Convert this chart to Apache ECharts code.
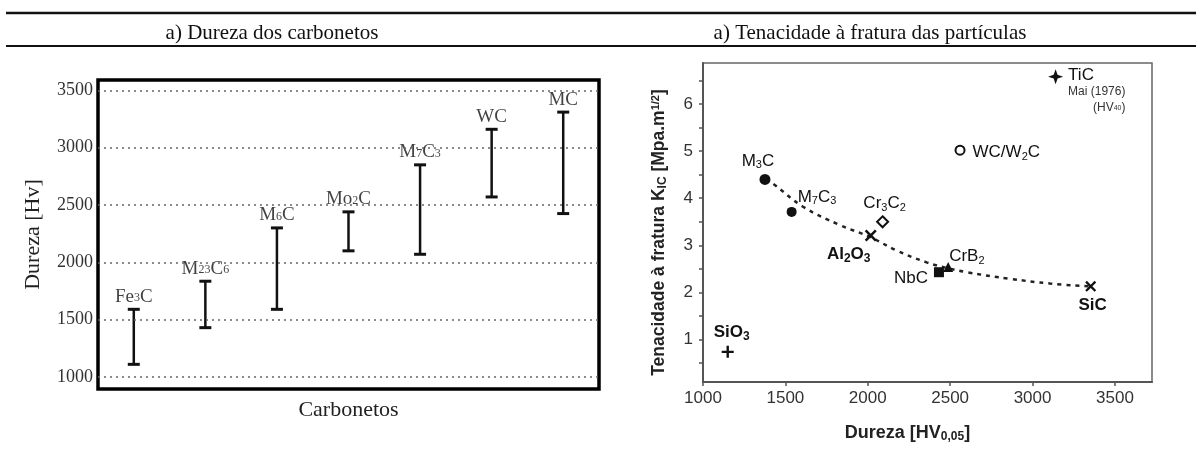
<!DOCTYPE html>
<html><head><meta charset="utf-8">
<script src="https://cdn.jsdelivr.net/npm/echarts@6/dist/echarts.min.js"></script>
<style>html,body{margin:0;padding:0;background:#fff}#c{width:1200px;height:457px}</style>
</head><body><div id="c"></div>
<script>
// ---- Left chart: hardness ranges of carbides ----
const carbides = ['Fe3C','M23C6','M6C','Mo2C','M7C3','WC','MC'];
const hvLow  = [1110, 1430, 1590, 2100, 2070, 2570, 2425];
const hvHigh = [1590, 1835, 2300, 2440, 2850, 3160, 3310];
const leftTicks = [1000, 1500, 2000, 2500, 3000, 3500];

// ---- Right chart: fracture toughness vs hardness ----
const particles = ['TiC','WC/W2C','M3C','M7C3','Cr3C2','Al2O3','NbC','CrB2','SiC','SiO3'];
const partHV  = [3140, 2560, 1376, 1538, 2090, 2018, 2432, 2488, 3353, 1150];
const partKIC = [6.58, 5.02, 4.40, 3.71, 3.50, 3.21, 2.43, 2.54, 2.13, 0.74];
const trendHV  = [1380, 1425, 1607, 1831, 2013, 2175, 2357, 2480, 2600, 2863, 3106, 3340];
const trendKIC = [4.40, 4.31, 3.82, 3.43, 3.18, 2.89, 2.64, 2.52, 2.43, 2.29, 2.19, 2.13];
const rightXTicks = [1000, 1500, 2000, 2500, 3000, 3500];
const rightYTicks = [1, 2, 3, 4, 5, 6];
const rightYMinor = [0.5, 1, 1.5, 2, 2.5, 3, 3.5, 4, 4.5, 5, 5.5, 6, 6.5];

const SERIF = '"Liberation Serif","DejaVu Serif",serif';
const SANS = '"Liberation Sans",Arial,sans-serif';
const plain = v => String(v);

function richSub(name, n, s) {
  const parts = name.match(/\d+|\D+/g);
  return parts.map(p => /^\d+$/.test(p) ? '{' + s + '|' + p + '}' : '{' + n + '|' + p + '}').join('');
}

const PLUS = 'path://M4,0H6V4H10V6H6V10H4V6H0V4H4Z';
const XB = 'path://M1.5,0L5,3.5L8.5,0L10,1.5L6.5,5L10,8.5L8.5,10L5,6.5L1.5,10L0,8.5L3.5,5L0,1.5Z';
const STAR4 = 'path://M5,0L6.3,3.7L10,5L6.3,6.3L5,10L3.7,6.3L0,5L3.7,3.7Z';

const pStyle = {
  'TiC':    {symbol: STAR4, size: 15, fill: '#111', pos: 'right', dist: 5, off: [0, -10], va: 'top'},
  'WC/W2C': {symbol: 'circle', size: 9, fill: '#fff', border: 2, pos: 'right', dist: 7, off: [0, 2]},
  'M3C':    {symbol: 'circle', size: 11, fill: '#111', pos: 'top', dist: 3, off: [-7, 0]},
  'M7C3':   {symbol: 'circle', size: 10, fill: '#111', pos: 'right', dist: 1, off: [0, -15]},
  'Cr3C2':  {symbol: 'diamond', size: 11, fill: '#fff', border: 2, pos: 'top', dist: 2, off: [2, 0]},
  'Al2O3':  {symbol: XB, size: 12, fill: '#111', pos: 'bottom', dist: 2, off: [-22, 0], bold: true},
  'NbC':    {symbol: 'rect', size: 10, fill: '#111', pos: 'left', dist: 6, off: [0, 6]},
  'CrB2':   {symbol: 'triangle', size: 10, fill: '#111', pos: 'right', dist: 0, off: [-4, -11]},
  'SiC':    {symbol: XB, size: 11, fill: '#111', pos: 'bottom', dist: 5, off: [2, 0], bold: true},
  'SiO3':   {symbol: PLUS, size: 12, fill: '#111', pos: 'top', dist: 3, off: [4, 0], bold: true}
};

const rightRich = {
  n: {fontFamily: SANS, fontSize: 17, color: '#111'},
  s: {fontFamily: SANS, fontSize: 11, color: '#111', verticalAlign: 'top', padding: [9, 0, 0, 0]},
  nb: {fontFamily: SANS, fontSize: 17, fontWeight: 'bold', color: '#111'},
  sb: {fontFamily: SANS, fontSize: 12, fontWeight: 'bold', color: '#111', verticalAlign: 'top', padding: [9, 0, 0, 0]},
  m: {fontFamily: SANS, fontSize: 12, color: '#333', align: 'right', lineHeight: 16},
  mm: {fontFamily: SANS, fontSize: 12, color: '#333', align: 'right', lineHeight: 16},
  ms: {fontFamily: SANS, fontSize: 7, color: '#333', align: 'right', lineHeight: 16}
};

const scatterData = particles.map((p, i) => {
  const st = pStyle[p];
  let text;
  if (p === 'TiC') {
    text = '{n|TiC}\n{m|Mai (1976)}\n{mm|(HV}{ms|40}{mm|)}';
  } else {
    text = st.bold ? richSub(p, 'nb', 'sb') : richSub(p, 'n', 's');
  }
  return {
    name: p,
    value: [partHV[i], partKIC[i]],
    symbol: st.symbol,
    symbolSize: st.size,
    itemStyle: {color: st.fill, borderColor: '#111', borderWidth: st.border || 0, opacity: 1},
    label: {
      show: true, position: st.pos, distance: st.dist, offset: st.off,
      verticalAlign: st.va, formatter: text, rich: rightRich
    }
  };
});

const chart = echarts.init(document.getElementById('c'), null, {renderer: 'canvas'});
chart.setOption({
  animation: false,
  backgroundColor: '#fff',
  title: [
    {text: 'a) Dureza dos carbonetos', left: 267, top: 18, textAlign: 'center',
     textStyle: {fontFamily: SERIF, fontSize: 21, fontWeight: 'normal', color: '#111'}},
    {text: 'a) Tenacidade à fratura das partículas', left: 865, top: 18, textAlign: 'center',
     textStyle: {fontFamily: SERIF, fontSize: 21, fontWeight: 'normal', color: '#111'}}
  ],
  graphic: [
    {type: 'line', shape: {x1: 6, y1: 13, x2: 1196, y2: 13}, style: {stroke: '#111', lineWidth: 2.5}},
    {type: 'line', shape: {x1: 6, y1: 46, x2: 1196, y2: 46}, style: {stroke: '#111', lineWidth: 2}}
  ],
  grid: [
    {left: 98, top: 80, width: 501, height: 309, show: true, borderColor: '#000', borderWidth: 3.5, backgroundColor: '#fff'},
    {left: 703, top: 63, width: 449, height: 319, show: true, borderColor: '#666', borderWidth: 1.5, backgroundColor: '#fff'}
  ],
  xAxis: [
    {type: 'category', gridIndex: 0, data: carbides, boundaryGap: true,
     axisLine: {show: false}, axisTick: {show: false}, axisLabel: {show: false}, splitLine: {show: false},
     name: 'Carbonetos', nameLocation: 'middle', nameGap: 10,
     nameTextStyle: {fontFamily: SERIF, fontSize: 22, color: '#222', verticalAlign: 'top'}},
    {type: 'value', gridIndex: 1, min: 1000, max: 3725,
     axisLine: {show: true, lineStyle: {color: '#555', width: 2}},
     axisTick: {show: true, customValues: rightXTicks, length: 4, lineStyle: {color: '#555', width: 1.5}},
     axisLabel: {customValues: rightXTicks, formatter: plain, fontFamily: SANS, fontSize: 17, color: '#333', margin: 8},
     splitLine: {show: false},
     name: '{t|Dureza [HV}{b|0,05}{t|]}', nameLocation: 'middle', nameGap: 41,
     nameTextStyle: {verticalAlign: 'top', padding: [0, 40, 0, 0], rich: {
       t: {fontFamily: SANS, fontSize: 18, fontWeight: 'bold', color: '#222'},
       b: {fontFamily: SANS, fontSize: 12, fontWeight: 'bold', color: '#222', verticalAlign: 'top', padding: [8, 0, 0, 0]}
     }}}
  ],
  yAxis: [
    {type: 'value', gridIndex: 0, min: 895, max: 3590,
     axisLine: {show: false}, axisTick: {show: false}, splitLine: {show: false},
     axisLabel: {customValues: leftTicks, formatter: plain, fontFamily: SERIF, fontSize: 18, color: '#333', margin: 5},
     name: 'Dureza [Hv]', nameLocation: 'middle', nameGap: 54, nameRotate: 90,
     nameTextStyle: {fontFamily: SERIF, fontSize: 22, color: '#222'}},
    {type: 'value', gridIndex: 1, min: 0.1, max: 6.87,
     axisLine: {show: true, lineStyle: {color: '#555', width: 2}},
     axisTick: {show: true, customValues: rightYMinor, length: 4, lineStyle: {color: '#555', width: 1.5}},
     axisLabel: {customValues: rightYTicks, formatter: plain, fontFamily: SANS, fontSize: 17, color: '#333', margin: 10},
     splitLine: {show: false},
     name: '{t|Tenacidade à fratura K}{b|IC}{t| [Mpa.m}{p|1/2}{t|]}', nameLocation: 'middle', nameGap: 34, nameRotate: 90,
     nameTextStyle: {padding: [0, 20, 0, 0], rich: {
       t: {fontFamily: SANS, fontSize: 17.5, fontWeight: 'bold', color: '#222'},
       b: {fontFamily: SANS, fontSize: 12, fontWeight: 'bold', color: '#222', verticalAlign: 'top', padding: [8, 0, 0, 0]},
       p: {fontFamily: SANS, fontSize: 11, fontWeight: 'bold', color: '#222', verticalAlign: 'bottom', padding: [0, 0, 8, 0]}
     }}}
  ],
  series: [
    {
      type: 'custom', xAxisIndex: 0, yAxisIndex: 0, silent: true,
      data: carbides.map((c, i) => [i, hvLow[i], hvHigh[i]]),
      renderItem: function (params, api) {
        const lo = api.coord([api.value(0), api.value(1)]);
        const hi = api.coord([api.value(0), api.value(2)]);
        const h = 6;
        return {type: 'group', children: [
          {type: 'line', shape: {x1: lo[0], y1: lo[1], x2: hi[0], y2: hi[1]}, style: {stroke: '#111', lineWidth: 2.5}},
          {type: 'line', shape: {x1: lo[0] - h, y1: lo[1], x2: lo[0] + h, y2: lo[1]}, style: {stroke: '#111', lineWidth: 3}},
          {type: 'line', shape: {x1: hi[0] - h, y1: hi[1], x2: hi[0] + h, y2: hi[1]}, style: {stroke: '#111', lineWidth: 3}}
        ]};
      },
      markLine: {
        silent: true, symbol: 'none', label: {show: false},
        lineStyle: {color: '#666', width: 1.5, type: [2, 4]},
        data: leftTicks.map(v => ({yAxis: v}))
      },
      z: 3
    },
    {
      type: 'scatter', xAxisIndex: 0, yAxisIndex: 0, silent: true,
      symbolSize: 0,
      data: carbides.map((c, i) => [i, hvHigh[i]]),
      label: {
        show: true, position: 'top', distance: 3,
        formatter: p => richSub(carbides[p.dataIndex], 'n', 's'),
        rich: {
          n: {fontFamily: SERIF, fontSize: 19, color: '#111'},
          s: {fontFamily: SERIF, fontSize: 12, color: '#111', verticalAlign: 'bottom', padding: [0, 0, 2, 0]}
        }
      }
    },
    {
      type: 'line', xAxisIndex: 1, yAxisIndex: 1, silent: true,
      data: trendHV.map((x, i) => [x, trendKIC[i]]),
      showSymbol: false, symbol: 'none', smooth: 0.4,
      lineStyle: {color: '#222', width: 2.5, type: [4, 5]},
      z: 2
    },
    {
      type: 'scatter', xAxisIndex: 1, yAxisIndex: 1, silent: true,
      data: scatterData, z: 3
    }
  ]
});
</script>
</body></html>
